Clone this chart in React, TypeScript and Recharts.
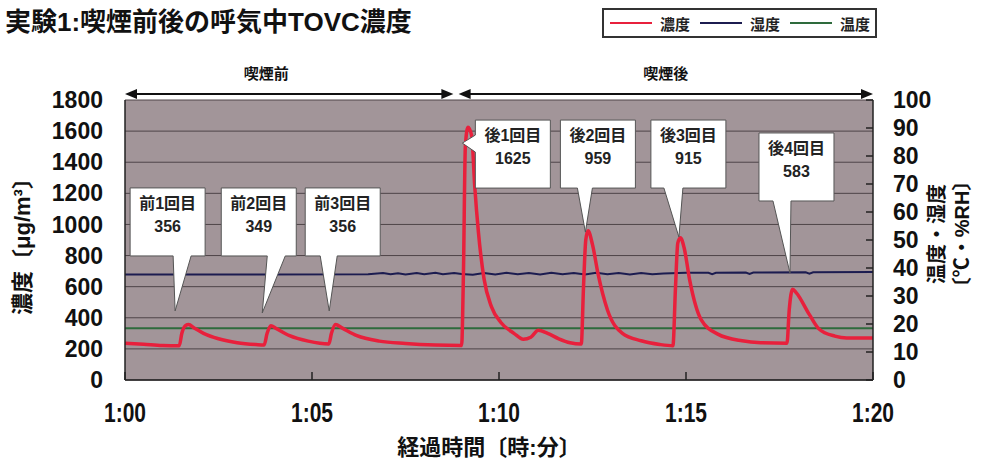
import React from "react";
import {
  LineChart,
  Line,
  XAxis,
  YAxis,
  CartesianGrid,
  ReferenceDot,
  ReferenceLine,
  Label,
} from "recharts";

// time in minutes after 1:00
const concMinutes = [
  0, 0.5, 1.0, 1.45, 1.52, 1.62, 1.7, 1.85, 2.1, 2.5, 3.0, 3.5, 3.72, 3.8, 3.9, 4.05, 4.4, 4.9, 5.45, 5.52,
  5.63, 5.8, 6.2, 6.8, 7.5, 8.3, 9.0, 9.05, 9.1, 9.17, 9.27, 9.35, 9.45, 9.6, 9.8, 10.05, 10.4, 10.65, 10.85,
  11.05, 11.3, 11.6, 11.9, 12.2, 12.26, 12.32, 12.38, 12.5, 12.65, 12.9, 13.3, 13.8, 14.3, 14.65, 14.72,
  14.78, 14.85, 14.95, 15.1, 15.4, 15.85, 16.5, 17.0, 17.7, 17.76, 17.85, 17.95, 18.3, 18.55, 18.98, 19.3, 20,
];
const concentration = [
  237, 230, 222, 220, 300, 350, 356, 335, 300, 265, 240, 228, 225, 300, 349, 330, 285, 250, 232, 300,
  356, 335, 285, 250, 235, 225, 222, 700, 1500, 1625, 1570, 1250, 950, 650, 470, 370, 300, 262, 275,
  320, 300, 265, 240, 232, 600, 900, 959, 870, 680, 450, 300, 252, 228, 220, 600,
  880, 915, 850, 640, 390, 295, 252, 240, 237, 450, 583, 560, 420, 330, 282, 270, 270,
];

const humidityMinutes = [
  0, 3, 6.5, 6.9, 7.1, 7.3, 7.5, 7.8, 8.0, 8.3, 8.5, 8.8, 9.0, 9.3, 9.6, 9.9, 10.2, 10.5, 10.8, 11.1,
  11.4, 11.7, 12.0, 12.3, 12.6, 12.9, 13.2, 13.5, 13.8, 14.1, 14.4, 15.0, 15.6, 15.7, 15.8, 16.6, 16.7,
  16.8, 18.2, 18.3, 18.4, 20,
];
const humidity = [
  37.7, 37.7, 37.8, 38.2, 37.8, 38.1, 37.7, 38.2, 37.8, 38.3, 37.8, 38.2, 37.9, 37.6, 38.2, 37.7, 38.3,
  37.8, 38.2, 37.7, 38.3, 37.8, 38.2, 37.7, 38.3, 37.8, 38.2, 37.7, 38.2, 37.8, 38.0, 38.3, 38.3, 37.8,
  38.3, 38.4, 37.9, 38.4, 38.5, 38.0, 38.5, 38.6,
];

const tempMinutes = [0, 10, 20];
const temperature = [18.5, 18.5, 18.5];

const concTicks = [0, 200, 400, 600, 800, 1000, 1200, 1400, 1600, 1800];
const rightTicks = [0, 10, 20, 30, 40, 50, 60, 70, 80, 90, 100];
const timeTicks = [0, 5, 10, 15, 20];

// callouts: label, value shown, anchor (minute, concentration) the tail points to
const calloutNames = ["前1回目", "前2回目", "前3回目", "後1回目", "後2回目", "後3回目", "後4回目"];
const calloutValues = [356, 349, 356, 1625, 959, 915, 583];
const calloutAnchorMin = [1.34, 3.67, 5.46, 9.02, 12.31, 14.81, 17.78];
const calloutAnchorConc = [444, 431, 444, 1523, 951, 919, 688];

// phase arrows
const phaseNames = ["喫煙前", "喫煙後"];
const phaseStart = [0, 8.92];
const phaseEnd = [8.78, 20];

// box placement relative to tail tip (pixels)
const calloutLayout = [
  { dx: -45, dy: -123, b1: 43, b2: 61, side: "bottom" },
  { dx: -41, dy: -125, b1: 46, b2: 64, side: "bottom" },
  { dx: -24, dy: -123, b1: 15, b2: 32, side: "bottom" },
  { dx: 13, dy: -23, b1: 15, b2: 32, side: "left" },
  { dx: -25, dy: -112, b1: 17, b2: 32, side: "bottom" },
  { dx: -28, dy: -117, b1: 13, b2: 32, side: "bottom" },
  { dx: -31, dy: -140, b1: 14, b2: 32, side: "bottom" },
];
const phaseLabelShift = [-23, 0];

const FONT = '"Liberation Sans", "Noto Sans CJK JP", sans-serif';
const RED = "#e8203c";
const NAVY = "#1c1c50";
const GREEN = "#2e6b3c";
const BOX_W = 75;
const BOX_H = 68;

const concData = concMinutes.map((t, i) => ({ t, v: concentration[i] }));
const humData = humidityMinutes.map((t, i) => ({ t, v: humidity[i] }));
const tempData = tempMinutes.map((t, i) => ({ t, v: temperature[i] }));

const fmtTime = (m: number) => `1:${String(m).padStart(2, "0")}`;

function CalloutShape(props: any) {
  const { cx, cy, idx } = props;
  if (cx == null || cy == null) return null;
  const L = calloutLayout[idx];
  const bx = cx + L.dx;
  const by = cy + L.dy;
  const d =
    L.side === "bottom"
      ? `M${bx},${by} H${bx + BOX_W} V${by + BOX_H} H${bx + L.b2} L${cx},${cy} L${bx + L.b1},${by + BOX_H} H${bx} Z`
      : `M${bx},${by} H${bx + BOX_W} V${by + BOX_H} H${bx} V${by + L.b2} L${cx},${cy} L${bx},${by + L.b1} Z`;
  return (
    <g>
      <path d={d} fill="#fff" stroke="#555" strokeWidth={1} />
      <text x={bx + BOX_W / 2} y={by + 21} textAnchor="middle" fontFamily={FONT} fontWeight="bold" fontSize={16} fill="#222">
        {calloutNames[idx]}
      </text>
      <text x={bx + BOX_W / 2} y={by + 44} textAnchor="middle" fontFamily={FONT} fontWeight="bold" fontSize={16} fill="#222">
        {calloutValues[idx]}
      </text>
    </g>
  );
}

function PhaseArrow(props: any) {
  const { x1, x2, y1, idx } = props;
  if (x1 == null) return null;
  const y = y1 - 6;
  const a = 12;
  const h = 5;
  return (
    <g>
      <line x1={x1 + 4} x2={x2 - 4} y1={y} y2={y} stroke="#111" strokeWidth={2} />
      <polygon points={`${x1},${y} ${x1 + a},${y - h} ${x1 + a},${y + h}`} fill="#111" />
      <polygon points={`${x2},${y} ${x2 - a},${y - h} ${x2 - a},${y + h}`} fill="#111" />
      <text
        x={(x1 + x2) / 2 + phaseLabelShift[idx]}
        y={y - 15}
        textAnchor="middle"
        fontFamily={FONT}
        fontWeight="bold"
        fontSize={15}
        fill="#111"
      >
        {phaseNames[idx]}
      </text>
    </g>
  );
}

function RightTick(props: any) {
  const { x, y, payload } = props;
  return (
    <g>
      <line x1={x - 20} x2={x - 27} y1={y} y2={y} stroke="#222" strokeWidth={1.5} />
      <text x={x} y={y} dy="0.36em" textAnchor="start" fontFamily={FONT} fontWeight="bold" fontSize={23} fill="#111">
        {payload.value}
      </text>
    </g>
  );
}

function BottomTick(props: any) {
  const { x, y, payload } = props;
  return (
    <g>
      <line x1={x} x2={x} y1={y - 22} y2={y - 30} stroke="#222" strokeWidth={1.5} />
      <g transform={`translate(${x},${y}) scale(1,1.3)`}>
        <text x={0} y={0} dy="0.75em" textAnchor="middle" fontFamily={FONT} fontWeight="bold" fontSize={21} fill="#111">
          {fmtTime(payload.value)}
        </text>
      </g>
    </g>
  );
}

export default function App() {
  return (
    <div style={{ position: "absolute", left: 0, top: 0, width: 981, height: 463, background: "#fff" }}>
      <div
        style={{
          position: "absolute",
          left: 5,
          top: 6,
          fontFamily: FONT,
          fontWeight: "bold",
          fontSize: 26,
          lineHeight: "32px",
          color: "#111",
          whiteSpace: "nowrap",
        }}
      >
        実験1:喫煙前後の呼気中TOVC濃度
      </div>
      <div
        style={{
          position: "absolute",
          left: 602,
          top: 8,
          width: 271,
          height: 26,
          border: "2px solid #333",
          display: "flex",
          alignItems: "center",
          fontFamily: FONT,
          fontWeight: "bold",
          fontSize: 15,
          color: "#222",
          zIndex: 2,
        }}
      >
        {[
          { name: "濃度", color: RED },
          { name: "湿度", color: NAVY },
          { name: "温度", color: GREEN },
        ].map((it) => (
          <div key={it.name} style={{ display: "flex", alignItems: "center", marginLeft: 6, marginRight: 4 }}>
            <span style={{ display: "inline-block", width: 42, height: 2, background: it.color, marginRight: 8 }} />
            <span>{it.name}</span>
          </div>
        ))}
      </div>
      <LineChart width={981} height={463} margin={{ top: 100, right: 48, bottom: 43, left: 60 }}>
        <CartesianGrid
          yAxisId="left"
          vertical={false}
          horizontal
          fill="#a29599"
          stroke="#4e4448"
          strokeWidth={1}
          horizontalValues={concTicks}
        />
        <XAxis
          dataKey="t"
          type="number"
          domain={[0, 20]}
          ticks={timeTicks}
          height={40}
          tickSize={0}
          tickMargin={22}
          tick={<BottomTick />}
          axisLine={{ stroke: "#222", strokeWidth: 1.5 }}
          tickLine={false}
          allowDuplicatedCategory={false}
        >
          <Label
            content={(p: any) => {
              const vb = p.viewBox;
              return (
                <text
                  x={vb.x + vb.width / 2 - 10}
                  y={vb.y + 67}
                  dy="0.36em"
                  textAnchor="middle"
                  fontFamily={FONT}
                  fontWeight="bold"
                  fontSize={22}
                  fill="#111"
                >
                  経過時間〔時:分〕
                </text>
              );
            }}
          />
        </XAxis>
        <YAxis
          yAxisId="left"
          domain={[0, 1800]}
          ticks={concTicks}
          width={65}
          tickSize={0}
          tickMargin={22}
          tickLine={false}
          axisLine={{ stroke: "#222", strokeWidth: 1.5 }}
          tick={{ fontFamily: FONT, fontWeight: "bold", fontSize: 23, fill: "#111" }}
        >
          <Label
            content={(p: any) => {
              const vb = p.viewBox;
              const cx = vb.x - 38;
              const cy = vb.y + vb.height / 2 + 1;
              return (
                <text
                  x={cx}
                  y={cy}
                  dy="0.36em"
                  textAnchor="middle"
                  transform={`rotate(-90 ${cx} ${cy})`}
                  fontFamily={FONT}
                  fontWeight="bold"
                  fontSize={22}
                  fill="#111"
                >
                  濃度〔μg/m³〕
                </text>
              );
            }}
          />
        </YAxis>
        <YAxis
          yAxisId="right"
          orientation="right"
          domain={[0, 100]}
          ticks={rightTicks}
          width={60}
          tickSize={0}
          tickMargin={20}
          tickLine={false}
          axisLine={{ stroke: "#222", strokeWidth: 1.5 }}
          tick={<RightTick />}
        >
          <Label
            content={(p: any) => {
              const vb = p.viewBox;
              const cy = vb.y + vb.height / 2 - 6;
              const x1 = vb.x + 64;
              const x2 = vb.x + 89;
              return (
                <g fontFamily={FONT} fontWeight="bold" fontSize={20} fill="#111">
                  <text x={x1} y={cy} dy="0.36em" textAnchor="middle" transform={`rotate(-90 ${x1} ${cy})`}>
                    温度・湿度
                  </text>
                  <text x={x2} y={cy} dy="0.36em" textAnchor="middle" transform={`rotate(-90 ${x2} ${cy})`}>
                    〔℃・%RH〕
                  </text>
                </g>
              );
            }}
          />
        </YAxis>

        <Line
          yAxisId="right"
          data={tempData}
          dataKey="v"
          type="linear"
          stroke={GREEN}
          strokeWidth={2}
          dot={false}
          isAnimationActive={false}
        />
        <Line
          yAxisId="right"
          data={humData}
          dataKey="v"
          type="linear"
          stroke={NAVY}
          strokeWidth={2}
          dot={false}
          isAnimationActive={false}
        />
        <Line
          yAxisId="left"
          data={concData}
          dataKey="v"
          type="monotone"
          stroke={RED}
          strokeWidth={3.5}
          dot={false}
          isAnimationActive={false}
        />

        {phaseNames.map((n, i) => (
          <ReferenceLine
            key={n}
            yAxisId="left"
            segment={[
              { x: phaseStart[i], y: 1800 },
              { x: phaseEnd[i], y: 1800 },
            ]}
            shape={(p: any) => <PhaseArrow {...p} idx={i} />}
          />
        ))}

        {calloutNames.map((n, i) => (
          <ReferenceDot
            key={n}
            yAxisId="left"
            x={calloutAnchorMin[i]}
            y={calloutAnchorConc[i]}
            r={0}
            shape={(p: any) => <CalloutShape {...p} idx={i} />}
          />
        ))}
      </LineChart>
    </div>
  );
}
